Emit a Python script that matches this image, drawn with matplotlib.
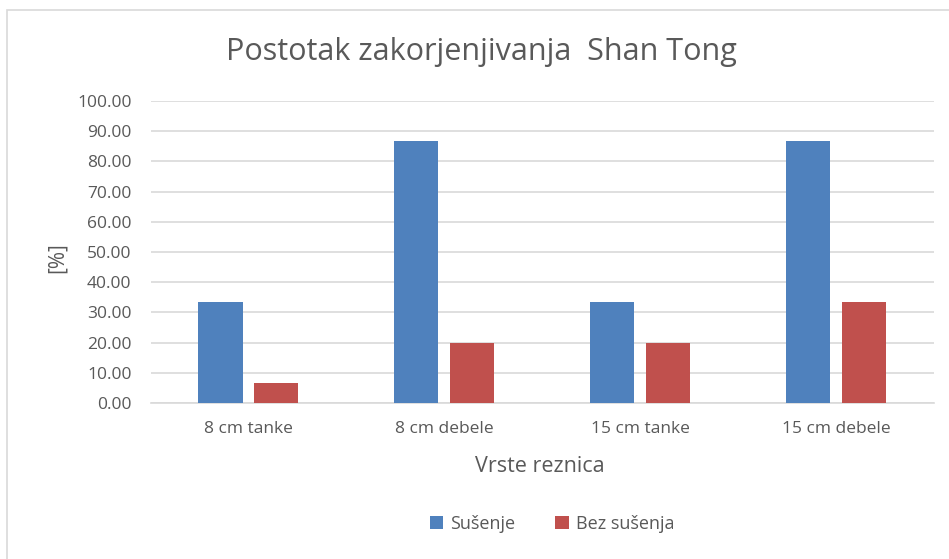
import matplotlib
matplotlib.use('Agg')
import matplotlib.pyplot as plt
from matplotlib.patches import Rectangle
import numpy as np

categories = ['8 cm tanke', '8 cm debele', '15 cm tanke', '15 cm debele']
susenje = [33.33, 86.67, 33.33, 86.67]
bez_susenja = [6.67, 20.00, 20.00, 33.33]

plt.rcParams['font.family'] = ['Open Sans', 'DejaVu Sans']
txt = '#595959'

fig = plt.figure(figsize=(9.49, 5.59), dpi=100)
# chart frame
fig.patches.append(Rectangle((7 / 949, -0.1), 1.1, 1 - 10 / 559 + 0.1,
                             transform=fig.transFigure, fill=False,
                             edgecolor='#d9d9d9', linewidth=1.2))

ax = fig.add_axes([151 / 949, 156 / 559, 783 / 949, 302 / 559])
x = np.arange(len(categories))
w = 0.225
ax.bar(x - 0.145, susenje, w, color='#4f81bd', label='Sušenje', zorder=3)
ax.bar(x + 0.14, bez_susenja, w, color='#c0504d', label='Bez sušenja', zorder=3)

ax.set_xlim(-0.5, 3.5)
ax.set_ylim(0, 100)
ax.set_yticks(np.arange(0, 101, 10))
ax.set_yticklabels(['{:.2f}'.format(v) for v in np.arange(0, 101, 10)])
ax.set_xticks(x)
ax.set_xticklabels(categories)
ax.tick_params(axis='both', length=0, colors=txt, labelsize=12.5)
ax.tick_params(axis='y', pad=14)
ax.tick_params(axis='x', pad=13)
ax.yaxis.grid(True, color='#d9d9d9', linewidth=1.2, zorder=0)
for s in ['top', 'right', 'left']:
    ax.spines[s].set_visible(False)
ax.spines['bottom'].set_color('#d9d9d9')
ax.spines['bottom'].set_linewidth(1.2)

fig.text(481 / 949, 1 - 52 / 559, 'Postotak zakorjenjivanja  Shan Tong',
         ha='center', va='center', fontsize=22, color=txt)
fig.text(57 / 949, 1 - 258 / 559, '[%]', rotation=90, ha='center', va='center',
         fontsize=15, color=txt)
fig.text(540 / 949, 1 - 466 / 559, 'Vrste reznica', ha='center', va='center',
         fontsize=15.5, color=txt)

fig.legend(loc='center', bbox_to_anchor=(552 / 949, 1 - 524 / 559), ncol=2,
           frameon=False, prop={'size': 13}, labelcolor=txt, handlelength=0.75,
           handleheight=0.75, columnspacing=2.2, handletextpad=0.4)

plt.savefig('out.png', dpi=100)
